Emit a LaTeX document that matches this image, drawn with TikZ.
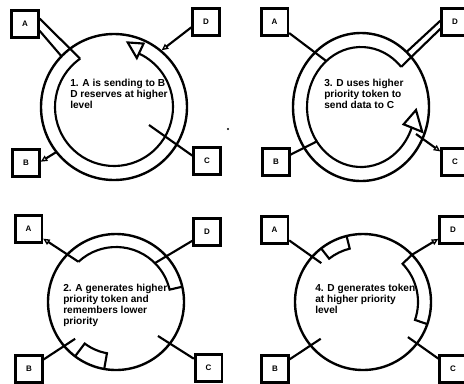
\documentclass[tikz,border=0pt]{standalone}
\usepackage{fontspec}
\setmainfont{Liberation Sans}
\usetikzlibrary{calc,arrows.meta}
\begin{document}
\begin{tikzpicture}[x=0.75pt,y=-0.75pt,
  ring/.style={line width=1.8pt},
  band/.style={line width=1.6pt},
  conn/.style={line width=1.6pt},
  oarrow/.style={conn,-{Triangle[open,length=5pt,width=4.5pt,line width=1pt]}},
  termbox/.style={draw,line width=2pt,minimum size=20pt,inner sep=0pt,font=\fontsize{6}{6}\selectfont\bfseries},
  caption/.style={anchor=north west,align=left,inner sep=0pt,font=\fontsize{7.6}{8.2}\selectfont\bfseries}
]
\useasboundingbox (0,0) rectangle (464,383);
% ---------------- Panel 1 ----------------
\coordinate (c1) at (114,107);
\node[termbox] (A1) at (25,24) {A};
\node[termbox] (D1) at (206,22) {D};
\node[termbox] (B1) at (26,163) {B};
\node[termbox] (C1) at (207,161) {C};
\draw[ring] (c1) circle[radius=73];
\draw[band] ($(c1)+(-125:59)$) arc[start angle=-125, end angle=-425, radius=59];
\draw[band] ($(c1)+(-65:70)$) -- ($(c1)+(-78:66)$) -- ($(c1)+(-65:54)$) -- cycle;
\coordinate (p1au) at ($(c1)+(-125:59)$);
\coordinate (p1al) at ($(c1)+(-136:73)$);
\draw[conn] (A1.20) -- (p1au);
\draw[conn] (A1.-25) -- (p1al);
\coordinate (p1b) at ($(c1)+(-218:73)$);
\draw[oarrow] (p1b) -- (B1.5);
\coordinate (p1c) at (149,125);
\draw[conn] (C1.160) -- (p1c);
\coordinate (p1d) at ($(c1)+(-50:74)$);
\draw[oarrow] (D1.200) -- (p1d);
\node[caption] (T1) at (70,79) {1. A is sending to B\\D reserves at higher\\level};
\fill (228,129) circle[radius=1.1];
% ---------------- Panel 2 ----------------
\coordinate (c2) at (361,107);
\node[termbox] (A2) at (274.5,22) {A};
\node[termbox] (D2) at (455,22) {D};
\node[termbox] (B2) at (276,162) {B};
\node[termbox] (C2) at (455,162) {C};
\draw[ring] (c2) ellipse[x radius=68, y radius=74];
\draw[band] ($(c2)+(-42:54 and 60)$) arc[start angle=-42, end angle=-340, x radius=54, y radius=60];
\draw[band] (403.6,124.3) -- (416,110) -- (422.2,131.8) -- cycle;
\coordinate (p2du) at ($(c2)+(-48:68 and 74)$);
\coordinate (p2dl) at ($(c2)+(-42:54 and 60)$);
\draw[conn] (D2.175) -- (p2du);
\draw[conn] (D2.-155) -- (p2dl);
\coordinate (p2a) at ($(c2)+(-130:54 and 60)$);
\draw[conn] (A2) -- (p2a);
\coordinate (p2b) at ($(c2)+(-215:54 and 60)$);
\draw[conn] (B2) -- (p2b);
\coordinate (p2c) at (416,134);
\draw[oarrow] (p2c) -- (C2);
\node[caption] (T2) at (324,79) {3. D uses higher\\priority token to\\send data to C};
% ---------------- Panel 3 ----------------
\coordinate (c3) at (116,302);
\node[termbox] (A3) at (28.5,229) {A};
\node[termbox] (D3) at (207,232) {D};
\node[termbox] (B3) at (29,369) {B};
\node[termbox] (C3) at (208.5,368) {C};
\draw[ring] (c3) circle[radius=68];
\draw[band] ($(c3)+(-133:55)$) arc[start angle=-133, end angle=-13, radius=55] -- ($(c3)+(-13:68)$);
\draw[band] ($(c3)+(-233:68)$) -- ($(c3)+(-233:52)$) arc[start angle=-233, end angle=-260, radius=52] -- ($(c3)+(-260:68)$);
\coordinate (p3a) at ($(c3)+(-133:55)$);
\draw[oarrow] (p3a) -- (A3);
\coordinate (p3d) at ($(c3)+(-45:55)$);
\draw[conn] (D3) -- (p3d);
\coordinate (p3b) at ($(c3)+(-222:55)$);
\draw[conn] (B3) -- (p3b);
\coordinate (p3c) at ($(c3)+(-321:54)$);
\draw[conn] (C3) -- (p3c);
\node[caption] (T3) at (63,284) {2. A generates higher\\priority token and\\remembers lower\\priority};
% ---------------- Panel 4 ----------------
\coordinate (c4) at (363,302);
\node[termbox] (A4) at (274.5,230) {A};
\node[termbox] (D4) at (453,230) {D};
\node[termbox] (B4) at (275,369) {B};
\node[termbox] (C4) at (453,369) {C};
\draw[ring] (c4) circle[radius=68];
\draw[band] ($(c4)+(-104:68)$) -- ($(c4)+(-104:55)$) arc[start angle=-104, end angle=-128, radius=55] -- ($(c4)+(-128:68)$);
\draw[band] ($(c4)+(-44:68)$) -- ($(c4)+(-44:55)$) arc[start angle=-44, end angle=19, radius=55] -- ($(c4)+(19:68)$);
\coordinate (p4d) at ($(c4)+(-44:68)$);
\draw[oarrow] (p4d) -- (D4);
\coordinate (p4a) at ($(c4)+(-137:57)$);
\draw[conn] (A4) -- (p4a);
\coordinate (p4b) at ($(c4)+(-221:56)$);
\draw[conn] (B4) -- (p4b);
\coordinate (p4c) at ($(c4)+(-322:57)$);
\draw[conn] (C4) -- (p4c);
\node[caption] (T4) at (315,284) {4. D generates token\\at higher priority\\level};
\end{tikzpicture}
\end{document}
